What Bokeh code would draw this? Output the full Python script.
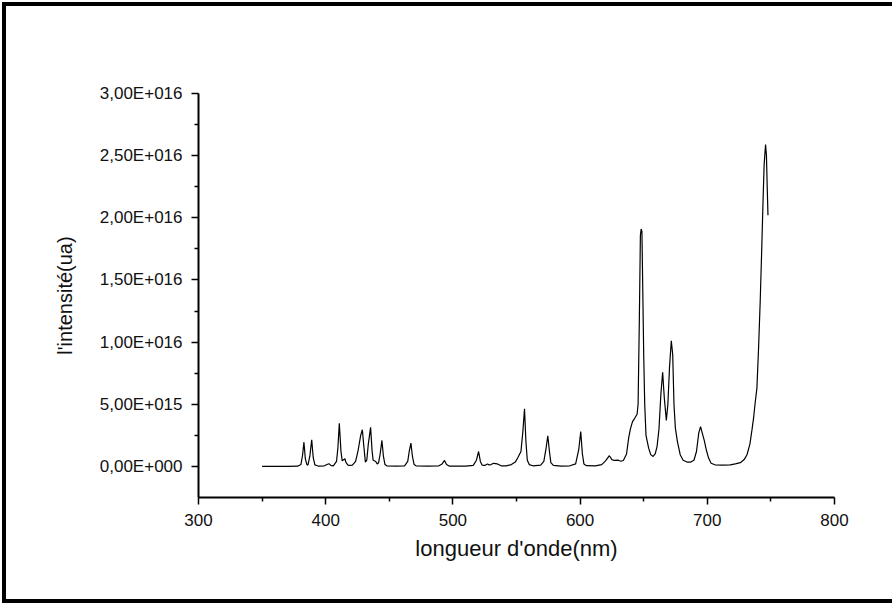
from bokeh.plotting import figure
from bokeh.models import Range1d, FixedTicker, Label, InlineStyleSheet
from bokeh.embed import file_html
from bokeh.resources import INLINE

# ---- data ----
wavelength = [
    350.0, 370.0, 378.0, 380.5, 381.8, 382.9, 384.0, 385.2, 386.0, 387.5,
    389.0, 390.2, 391.5, 394.0, 399.0, 401.0, 402.6, 404.0, 406.0, 408.5,
    409.6, 410.7, 412.0, 413.0, 414.3, 415.1, 416.0, 417.5, 419.0, 421.0,
    423.5, 425.5, 427.5, 428.8, 430.0, 431.2, 432.3, 433.5, 435.3, 436.5,
    437.3, 438.3, 439.3, 440.5, 441.6, 442.8, 444.2, 445.4, 446.6, 448.0,
    455.0, 462.0, 464.5, 465.8, 467.0, 468.2, 469.5, 471.0, 480.0, 489.0,
    491.5, 493.4, 495.0, 497.0, 510.0, 516.0, 518.5, 520.2, 521.6, 523.0,
    525.0, 527.2, 528.5, 530.0, 532.0, 535.0, 538.0, 542.0, 546.0, 549.0,
    551.0, 553.5, 555.0, 556.3, 557.4, 558.5, 560.0, 563.0, 569.0, 571.5,
    573.3, 574.6, 575.8, 577.0, 579.0, 585.0, 592.0, 596.5, 599.0, 600.5,
    601.8, 603.0, 605.0, 612.0, 617.0, 620.0, 623.0, 625.0, 627.0, 630.0,
    632.0, 634.0, 636.5, 638.2, 639.5, 641.2, 642.8, 644.8, 645.6, 646.6,
    647.4, 648.0, 648.6, 649.3, 650.0, 650.8, 651.8, 653.9, 655.5, 657.4,
    659.0, 660.5, 662.0, 663.5, 664.9, 666.2, 667.8, 669.0, 670.3, 671.7,
    672.8, 673.8, 674.9, 676.5, 678.7, 681.0, 684.1, 687.0, 689.5, 691.5,
    693.3, 694.7, 696.0, 697.6, 699.3, 701.0, 703.0, 706.0, 712.0, 718.0,
    722.0, 726.0, 729.0, 731.2, 733.5, 735.2, 736.4, 737.5, 739.0, 740.3,
    741.6, 742.8, 743.8, 744.7, 745.8, 746.5, 747.1, 747.7,
]
intensity = [
    0.00e15, 0.00e15, 0.02e15, 0.15e15, 0.90e15, 1.95e15, 0.60e15, 0.15e15, 0.10e15, 0.80e15,
    2.15e15, 0.70e15, 0.12e15, 0.03e15, 0.05e15, 0.15e15, 0.22e15, 0.08e15, 0.05e15, 0.40e15,
    1.50e15, 3.48e15, 1.20e15, 0.45e15, 0.55e15, 0.62e15, 0.30e15, 0.10e15, 0.08e15, 0.10e15,
    0.40e15, 1.30e15, 2.50e15, 2.95e15, 1.60e15, 0.35e15, 0.50e15, 1.80e15, 3.14e15, 1.20e15,
    0.50e15, 0.45e15, 0.40e15, 0.20e15, 0.30e15, 1.00e15, 2.09e15, 0.80e15, 0.15e15, 0.05e15,
    0.02e15, 0.05e15, 0.40e15, 1.30e15, 1.87e15, 0.80e15, 0.15e15, 0.05e15, 0.03e15, 0.05e15,
    0.20e15, 0.48e15, 0.15e15, 0.03e15, 0.03e15, 0.08e15, 0.50e15, 1.20e15, 0.40e15, 0.10e15,
    0.08e15, 0.20e15, 0.12e15, 0.15e15, 0.25e15, 0.20e15, 0.05e15, 0.05e15, 0.15e15, 0.35e15,
    0.70e15, 1.20e15, 2.80e15, 4.64e15, 2.00e15, 0.50e15, 0.15e15, 0.05e15, 0.10e15, 0.40e15,
    1.50e15, 2.47e15, 1.30e15, 0.30e15, 0.08e15, 0.02e15, 0.05e15, 0.20e15, 1.40e15, 2.81e15,
    1.00e15, 0.20e15, 0.06e15, 0.05e15, 0.15e15, 0.45e15, 0.86e15, 0.55e15, 0.48e15, 0.50e15,
    0.42e15, 0.48e15, 1.00e15, 2.30e15, 3.00e15, 3.60e15, 3.85e15, 4.20e15, 5.00e15, 12.0e15,
    18.6e15, 19.1e15, 18.9e15, 14.0e15, 9.00e15, 5.00e15, 2.50e15, 1.47e15, 0.95e15, 0.80e15,
    1.00e15, 1.60e15, 3.00e15, 5.80e15, 7.58e15, 5.50e15, 3.70e15, 5.00e15, 8.00e15, 10.1e15,
    9.00e15, 5.00e15, 3.08e15, 2.00e15, 0.94e15, 0.50e15, 0.35e15, 0.35e15, 0.50e15, 1.20e15,
    2.70e15, 3.20e15, 2.70e15, 2.10e15, 1.30e15, 0.67e15, 0.25e15, 0.13e15, 0.10e15, 0.12e15,
    0.20e15, 0.30e15, 0.55e15, 0.94e15, 1.80e15, 3.00e15, 3.90e15, 5.00e15, 6.30e15, 9.50e15,
    13.3e15, 17.5e15, 21.3e15, 24.3e15, 25.9e15, 25.0e15, 22.5e15, 20.2e15,
]

x_ticks = [300, 400, 500, 600, 700, 800]
x_minor = [350, 450, 550, 650, 750]
y_ticks = [0.0, 5e15, 1e16, 1.5e16, 2e16, 2.5e16, 3e16]
y_minor = [2.5e15, 7.5e15, 1.25e16, 1.75e16, 2.25e16, 2.75e16]
y_tick_labels = ["0,00E+000", "5,00E+015", "1,00E+016", "1,50E+016",
                 "2,00E+016", "2,50E+016", "3,00E+016"]

x_title = "longueur d'onde(nm)"
y_title = "l'intensité(ua)"
legend_text = "N I"

FONT = "Liberation Sans"

# thick black frame around the picture (left, top and bottom sides; the
# right side runs off the picture), painted as the host background
border_css = InlineStyleSheet(css="""
:host {
  vertical-align: top;
  background-color: white;
  background-image: linear-gradient(#000, #000), linear-gradient(#000, #000), linear-gradient(#000, #000);
  background-repeat: no-repeat, no-repeat, no-repeat;
  background-size: 4px 601px, 920px 4px, 920px 4px;
  background-position: 2px 2px, 2px 2px, 2px 599px;
}
""")

p = figure(width=892, height=605,
           x_range=Range1d(300, 800), y_range=Range1d(-2.5e15, 3e16),
           output_backend="svg", toolbar_location=None,
           min_border_left=198, min_border_right=58,
           min_border_top=93, min_border_bottom=108,
           stylesheets=[border_css])

p.xgrid.visible = False
p.ygrid.visible = False
p.outline_line_color = None
p.background_fill_color = "white"
p.border_fill_color = None

p.line(wavelength, intensity, line_color="black", line_width=1.2)

# x axis
xa = p.xaxis[0]
xa.ticker = FixedTicker(ticks=x_ticks, minor_ticks=x_minor)
xa.axis_label = x_title
# y axis
ya = p.yaxis[0]
ya.ticker = FixedTicker(ticks=y_ticks, minor_ticks=y_minor)
ya.major_label_overrides = {v: s for v, s in zip(y_ticks, y_tick_labels)}
ya.axis_label = y_title

for ax in (xa, ya):
    ax.axis_line_color = "black"
    ax.axis_line_width = 2
    ax.major_tick_line_color = "black"
    ax.major_tick_line_width = 1.5
    ax.minor_tick_line_color = "black"
    ax.minor_tick_line_width = 1.5
    ax.major_tick_in = 0
    ax.major_tick_out = 7
    ax.minor_tick_in = 0
    ax.minor_tick_out = 4
    ax.major_label_text_font = FONT
    ax.major_label_text_font_size = "17px"
    ax.major_label_text_color = "#111111"
    ax.axis_label_text_font = FONT
    ax.axis_label_text_font_style = "normal"
    ax.axis_label_text_color = "#111111"

xa.axis_label_text_font_size = "22px"
ya.axis_label_text_font_size = "20px"
xa.major_label_standoff = 9
ya.major_label_standoff = 9
xa.axis_label_standoff = 7
ya.axis_label_standoff = 21

lab = Label(x=720.6, y=3.25e16, text=legend_text,
            text_font=FONT, text_font_size="20px", text_color="black",
            text_align="center", text_baseline="middle",
            border_line_color="black", border_line_width=1,
            background_fill_color="white", padding=3)
p.add_layout(lab)

open("out.html", "w").write(file_html(p, INLINE))
